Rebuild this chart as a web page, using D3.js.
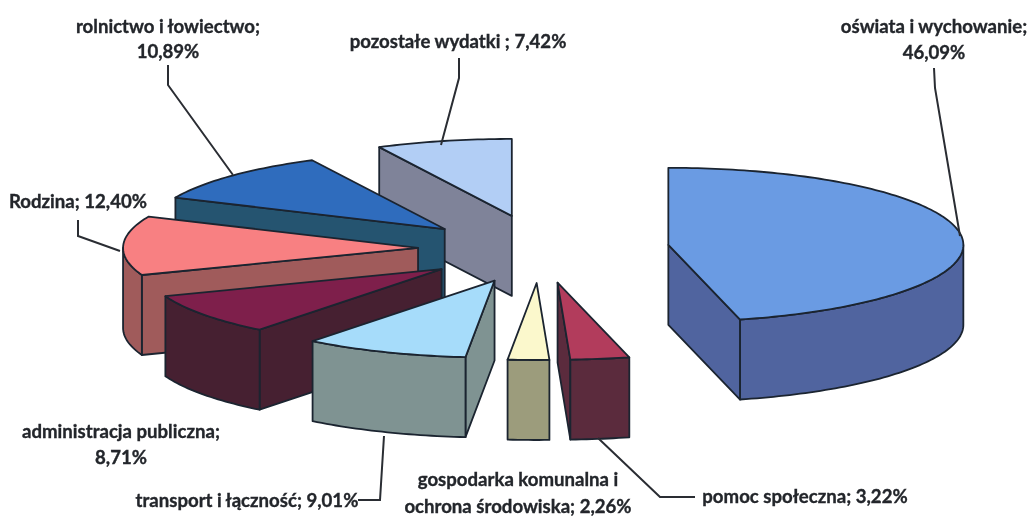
<!DOCTYPE html>
<html>
<head>
<meta charset="utf-8">
<script src="https://cdn.jsdelivr.net/npm/d3@7"></script>
<style>
  html, body { margin: 0; padding: 0; background: #fff; }
  svg { display: block; filter: blur(0.35px); }
  text { font-family: Lato, "Open Sans", sans-serif; font-weight: 700; fill: #23262b; stroke: #23262b; stroke-width: 0.35px; text-anchor: middle; }
</style>
</head>
<body>
<svg id="chart" width="1031" height="517"></svg>
<script>
// categories and shares, clockwise from 12 o'clock
var categories = ["oświata i wychowanie", "pomoc społeczna", "gospodarka komunalna", "transport i łączność",
                  "administracja publiczna", "Rodzina", "rolnictwo i łowiectwo", "pozostałe wydatki"];
var shares = [46.09, 3.22, 2.26, 9.01, 8.71, 12.40, 10.89, 7.42];

var topColors  = ["#6a9be3", "#b23c5c", "#fbf8cc", "#a6dcfa", "#7e1f4b", "#f88082", "#2f6cbd", "#b2cef5"];
var sideColors = ["#50649f", "#5b2b3d", "#9c9c7c", "#7f9392", "#462031", "#a05b5b", "#255470", "#7f8399"];
// how far each slice is pulled out, 1 = default
var explodeX = [1.06, 1, 1, 1, 1, 1, 1.08, 1];
var explodeY = [1, 1, 1, 1, 1, 1, 0.85, 1];

var labelLines = [
    ["oświata i wychowanie;", "46,09%"],
    ["pomoc społeczna; 3,22%"],
    ["gospodarka komunalna i", "ochrona środowiska; 2,26%"],
    ["transport i łączność; 9,01%"],
    ["administracja publiczna;", "8,71%"],
    ["Rodzina; 12,40%"],
    ["rolnictwo i łowiectwo;", "10,89%"],
    ["pozostałe wydatki ; 7,42%"]
];
var labelPos = [[934, 33, 26], [805, 503, 0], [518, 486, 27], [247, 507, 0],
                [121, 438, 26], [78, 208, 0], [168, 33, 25], [458, 48, 0]];
var leaders = [
    [[934, 68], [935, 88], [960, 236]],
    [[695, 497], [660, 497], [598, 438]],
    [],
    [[358, 500], [380, 500], [384, 436]],
    [],
    [[78, 220], [78, 236], [120, 251]],
    [[168, 65], [168, 85], [233, 175]],
    [[459, 58], [459, 78], [441, 145]]
];

var center = { x: 540, y: 249 };
var rx = 295, ry = 77, depth = 80;
var pullX = 122, pullY = 34;

var svg = d3.select("#chart");
var line = d3.line();

var pie = d3.pie().sort(null).value(function(d) { return d; })
    .startAngle(0).endAngle(2 * Math.PI);

var slices = pie(shares).map(function(d, i) {
    var mid = (d.startAngle + d.endAngle) / 2;
    return {
        i: i,
        start: d.startAngle,
        end: d.endAngle,
        mid: mid,
        cx: center.x + Math.sin(mid) * pullX * explodeX[i],
        cy: center.y - Math.cos(mid) * pullY * explodeY[i]
    };
});

function point(s, a, drop) {
    return [s.cx + rx * Math.sin(a), s.cy - ry * Math.cos(a) + (drop || 0)];
}

// points along the rim between two angles
function rim(s, from, to, drop) {
    var n = Math.max(2, Math.ceil((to - from) / 0.02));
    return d3.range(n + 1).map(function(k) {
        return point(s, from + (to - from) * k / n, drop);
    });
}

function strokeIt(sel, fill) {
    return sel.attr("fill", fill)
        .attr("stroke", "#1b2430")
        .attr("stroke-width", 1.8)
        .attr("stroke-linejoin", "round");
}

// back slices first so the front ones cover them
var order = slices.slice().sort(function(a, b) { return Math.cos(b.mid) - Math.cos(a.mid); });

order.forEach(function(s) {
    var g = svg.append("g");
    var side = sideColors[s.i];
    var apex = [s.cx, s.cy], apexLow = [s.cx, s.cy + depth];

    // the cut faces, only those turned to the viewer
    var faces = [];
    if (Math.sin(s.start) < -1e-6) faces.push(s.start);
    if (Math.sin(s.end) > 1e-6) faces.push(s.end);
    faces.forEach(function(a) {
        strokeIt(g.append("path"), side).attr("d", line([
            apex, point(s, a), point(s, a, depth), apexLow
        ]) + "Z");
    });

    // outer wall, same idea
    var from = Math.max(s.start, Math.PI / 2), to = Math.min(s.end, 3 * Math.PI / 2);
    if (to > from) {
        var wall = rim(s, from, to, 0).concat(rim(s, from, to, depth).reverse());
        strokeIt(g.append("path"), side).attr("d", line(wall) + "Z");
    }

    // top face
    strokeIt(g.append("path"), topColors[s.i])
        .attr("d", line([apex].concat(rim(s, s.start, s.end, 0))) + "Z");
});

leaders.forEach(function(pts) {
    if (!pts.length) return;
    svg.append("path")
        .attr("d", line(pts))
        .attr("fill", "none")
        .attr("stroke", "#2a2d33")
        .attr("stroke-width", 2);
});

labelLines.forEach(function(lines, i) {
    lines.forEach(function(t, k) {
        svg.append("text")
            .attr("x", labelPos[i][0])
            .attr("y", labelPos[i][1] + k * labelPos[i][2])
            .style("font-size", "18.6px")
            .text(t);
    });
});
</script>
</body>
</html>
